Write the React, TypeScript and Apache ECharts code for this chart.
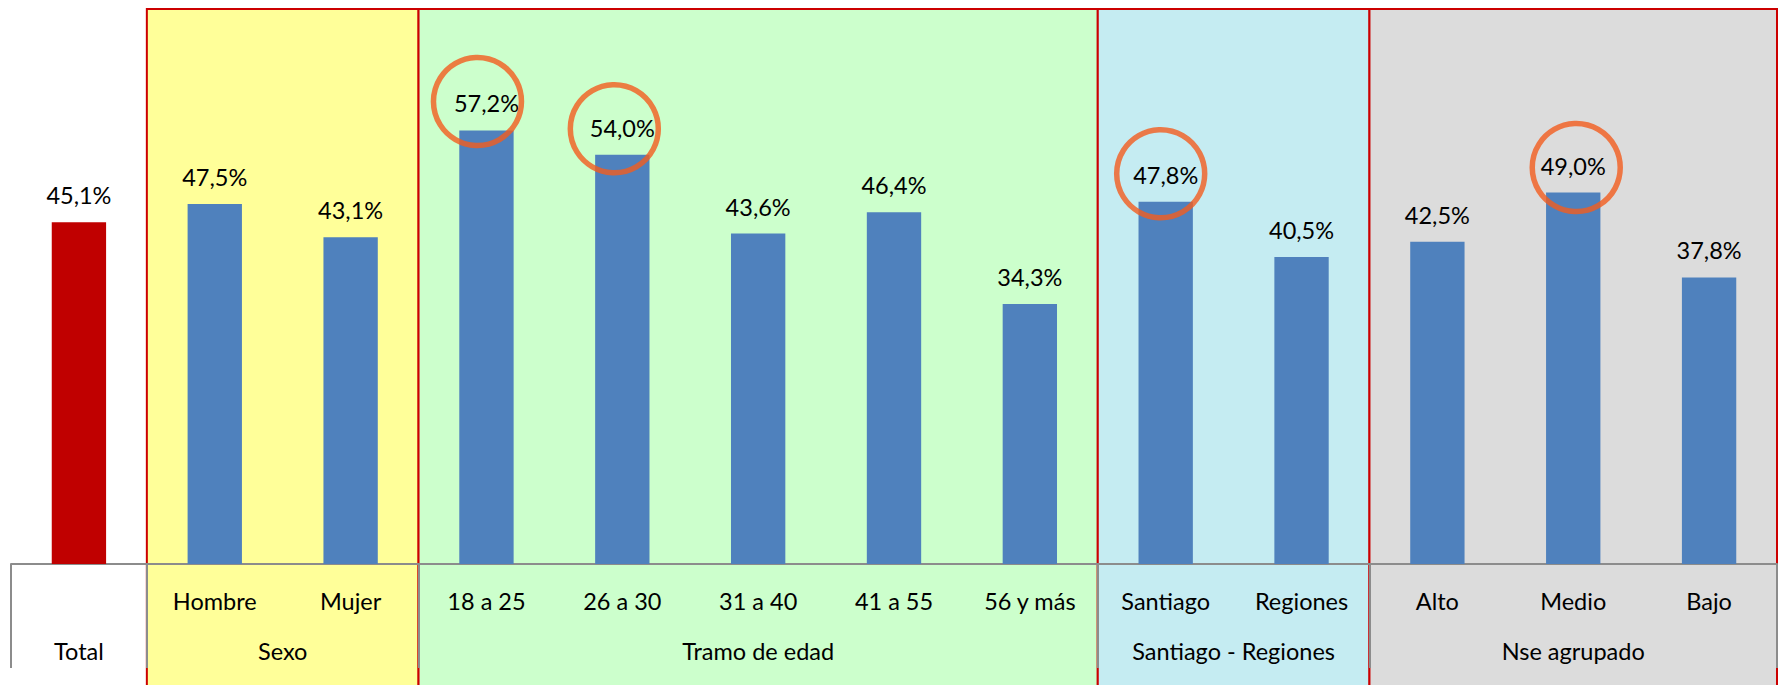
import React, { useEffect, useRef } from 'react';
import * as echarts from 'echarts';

const categories = ['Total', 'Hombre', 'Mujer', '18 a 25', '26 a 30', '31 a 40', '41 a 55', '56 y más', 'Santiago', 'Regiones', 'Alto', 'Medio', 'Bajo'];
const values = [45.1, 47.5, 43.1, 57.2, 54.0, 43.6, 46.4, 34.3, 47.8, 40.5, 42.5, 49.0, 37.8];
const groupNames = ['Total', 'Sexo', 'Tramo de edad', 'Santiago - Regiones', 'Nse agrupado'];
const groupSizes = [1, 2, 5, 2, 3];
const highlighted = ['18 a 25', '26 a 30', 'Santiago', 'Medio'];

const groupColors = ['', '#FFFF99', '#CCFFCC', '#C5ECF2', '#DCDCDC'];
const circleOffsets = [[-9, -29], [-8, -26], [-5, -28], [3, -25]];
const FONT = 'Lato';
const FS = 23.5;

const fmt = (v: number) => v.toFixed(1).replace('.', ',') + '%';

export default function App() {
  const ref = useRef<HTMLDivElement>(null);
  useEffect(() => {
    document.body.style.margin = '0';
    const chart = echarts.init(ref.current!, null, { renderer: 'svg' });
    const bounds: number[] = [0];
    groupSizes.forEach((s) => bounds.push(bounds[bounds.length - 1] + s));
    const centers = groupSizes.map((_, i) => (bounds[i] + bounds[i + 1]) / 2);
    const gray = '#8C8C8C';

    chart.setOption({
      animation: false,
      textStyle: { fontFamily: FONT },
      grid: { left: 11, right: 3, top: 33.4, bottom: 121, containLabel: false, outerBoundsMode: 'none' },
      xAxis: [
        {
          type: 'category',
          data: categories,
          axisLine: { show: false },
          axisTick: { show: false },
          axisLabel: {
            interval: 0,
            margin: 25,
            fontSize: FS,
            fontFamily: FONT,
            color: '#000',
            formatter: (v: string) => (v === 'Total' ? '' : v),
          },
        },
        {
          type: 'value',
          min: 0,
          max: categories.length,
          position: 'bottom',
          splitLine: { show: false },
          axisLine: { show: true, lineStyle: { color: gray, width: 2 } },
          axisTick: { show: true, customValues: bounds, length: 104, lineStyle: { color: gray, width: 2 } },
          axisLabel: {
            show: true,
            customValues: centers,
            margin: 75,
            fontSize: FS,
            fontFamily: FONT,
            color: '#000',
            formatter: (v: number) => {
              let best = 0;
              centers.forEach((c, i) => {
                if (Math.abs(c - v) < Math.abs(centers[best] - v)) best = i;
              });
              return groupNames[best];
            },
          },
        },
      ],
      yAxis: {
        type: 'value',
        min: 0,
        max: 70,
        show: false,
        splitLine: { show: false },
      },
      series: [
        {
          type: 'bar',
          xAxisIndex: 0,
          barWidth: '40%',
          data: values.map((v, i) => ({
            value: v,
            itemStyle: { color: i === 0 ? '#C00000' : '#4F81BD' },
          })),
          label: {
            show: true,
            position: 'top',
            distance: 15,
            fontSize: FS,
            fontFamily: FONT,
            color: '#000',
            formatter: (p: any) => fmt(p.value),
          },
          z: 3,
        },
        {
          type: 'scatter',
          xAxisIndex: 0,
          symbol: 'circle',
          symbolSize: 88,
          data: highlighted.map((c, i) => ({
            value: [c, values[categories.indexOf(c)]],
            symbolOffset: circleOffsets[i],
          })),
          itemStyle: { color: 'rgba(0,0,0,0)', borderColor: '#F25C1E', borderWidth: 5.5 },
          silent: true,
          z: 6,
        },
      ],
    });

    const px = (v: number) => chart.convertToPixel({ xAxisIndex: 1 }, v) as number;
    const elements: any[] = [];
    for (let i = 1; i < groupSizes.length; i++) {
      const x0 = px(bounds[i]);
      const x1 = px(bounds[i + 1]);
      elements.push({
        type: 'rect',
        z: -10,
        shape: { x: x0, y: 9, width: x1 - x0, height: 700 },
        style: { fill: groupColors[i], stroke: '#CC0000', lineWidth: 2 },
      });
    }
    chart.setOption({ graphic: { elements } });

    return () => chart.dispose();
  }, []);
  return <div ref={ref} style={{ width: 1780, height: 685 }} />;
}
